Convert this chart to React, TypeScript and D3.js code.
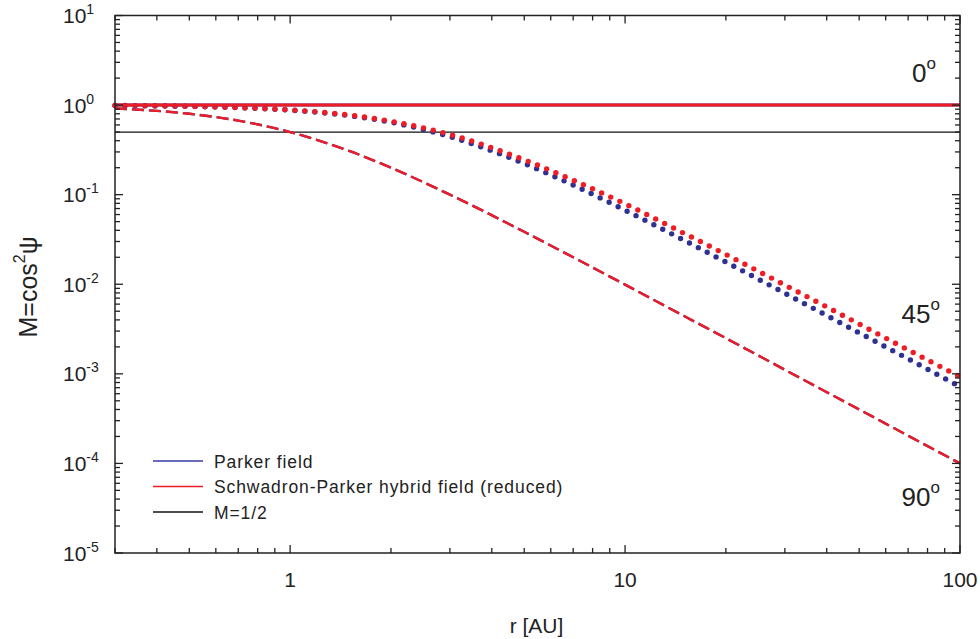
import React from "react";
import * as d3 from "d3";

// radial distance samples [AU]
const rValues = [0.3, 0.5, 0.7, 1, 1.5, 2, 3, 5, 7, 10, 15, 20, 30, 50, 70, 100];

// M = cos^2(psi)
const parker0 = [1, 1, 1, 1, 1, 1, 1, 1, 1, 1, 1, 1, 1, 1, 1, 1];
const hybrid0 = [1, 1, 1, 1, 1, 1, 1, 1, 1, 1, 1, 1, 1, 1, 1, 1];
const parker45 = [0.988, 0.966, 0.936, 0.878, 0.762, 0.643, 0.444, 0.223, 0.128, 0.0671, 0.031, 0.0177, 0.00794, 0.00287, 0.00147, 0.00072];
const hybrid45 = [0.99, 0.97, 0.94, 0.885, 0.775, 0.66, 0.47, 0.245, 0.145, 0.079, 0.037, 0.0215, 0.0098, 0.0036, 0.00185, 0.00093];
const parker90 = [0.917, 0.8, 0.671, 0.5, 0.308, 0.2, 0.1, 0.0385, 0.02, 0.0099, 0.00442, 0.0025, 0.00111, 0.0004, 0.000204, 0.0001];
const hybrid90 = [0.917, 0.8, 0.671, 0.5, 0.308, 0.2, 0.1, 0.0385, 0.02, 0.0099, 0.00442, 0.0025, 0.00111, 0.0004, 0.000204, 0.0001];
const halfLine = [0.5, 0.5];
const halfR = [0.3, 100];

const xTickLabels = [1, 10, 100];
const yTickExps = [-5, -4, -3, -2, -1, 0, 1];
const legendLabels = ["Parker field", "Schwadron-Parker hybrid field (reduced)", "M=1/2"];
const angleLabels = [
  { text: "0", m: 1.8 },
  { text: "45", m: 0.0037 },
  { text: "90", m: 0.0000335 },
];

const RED = "#ee1c25";
const BLUE = "#2e3192";
const FONT = "Arial, 'Liberation Sans', sans-serif";

export default function App() {
  const W = 980, H = 639;
  const left = 115, right = 960, top = 15.5, bottom = 553;

  const x = d3.scaleLog().domain([0.3, 100]).range([left, right]);
  const y = d3.scaleLog().domain([1e-5, 10]).range([bottom, top]);

  const line = d3
    .line<[number, number]>()
    .x((d) => x(d[0]))
    .y((d) => y(d[1]))
    .curve(d3.curveMonotoneX);

  const path = (vals: number[], rs = rValues) => line(rs.map((r, i) => [r, vals[i]]) as [number, number][]) || "";

  const xMajor = new Set(xTickLabels);
  const xTicks = x.ticks();
  const yTicks = y.ticks();
  const isMajorY = (v: number) => Math.abs(Math.log10(v) - Math.round(Math.log10(v))) < 1e-6;

  const tickStroke = { stroke: "#222", strokeWidth: 1.3 };

  return (
    <svg width={W} height={H} style={{ position: "absolute", left: 0, top: 0 }} fontFamily={FONT}>
      <rect width={W} height={H} fill="#fff" />

      {/* data */}
      <path d={path(halfLine, halfR)} fill="none" stroke="#111" strokeWidth={1.3} />
      <path d={path(parker90)} fill="none" stroke={BLUE} strokeWidth={2.4} strokeDasharray="12 5" />
      <path d={path(hybrid90)} fill="none" stroke={RED} strokeWidth={2.4} strokeDasharray="12 5" />
      <path d={path(parker45)} fill="none" stroke={BLUE} strokeWidth={5.4} strokeDasharray="0 10" strokeLinecap="round" />
      <path d={path(hybrid45)} fill="none" stroke={RED} strokeWidth={5.4} strokeDasharray="0 10" strokeLinecap="round" />
      <path d={path(parker0)} fill="none" stroke={BLUE} strokeWidth={3} />
      <path d={path(hybrid0)} fill="none" stroke={RED} strokeWidth={3} />

      {/* frame */}
      <rect x={left} y={top} width={right - left} height={bottom - top} fill="none" stroke="#222" strokeWidth={1.5} />

      {/* x ticks (bottom + top, inward) */}
      {xTicks.map((t, i) => {
        const len = xMajor.has(t) ? 8 : 5;
        const px = x(t);
        return (
          <g key={"xt" + i}>
            <line x1={px} x2={px} y1={bottom} y2={bottom - len} {...tickStroke} />
            <line x1={px} x2={px} y1={top} y2={top + len} {...tickStroke} />
          </g>
        );
      })}
      {xTickLabels.map((t) => (
        <text key={"xl" + t} x={x(t)} y={587} textAnchor="middle" fontSize={21} fill="#222">
          {t}
        </text>
      ))}

      {/* y ticks (left + right, inward) */}
      {yTicks.map((t, i) => {
        const len = isMajorY(t) ? 8 : 5;
        const py = y(t);
        return (
          <g key={"yt" + i}>
            <line x1={left} x2={left + len} y1={py} y2={py} {...tickStroke} />
            <line x1={right} x2={right - len} y1={py} y2={py} {...tickStroke} />
          </g>
        );
      })}
      {yTickExps.map((e) => (
        <text key={"yl" + e} x={63} y={y(Math.pow(10, e)) + 7.5} fontSize={21} fill="#222">
          10
          <tspan fontSize={14} dy={-9}>
            {e}
          </tspan>
        </text>
      ))}

      {/* axis titles */}
      <text x={(left + right) / 2 - 1} y={633} textAnchor="middle" fontSize={21} fill="#222">
        r [AU]
      </text>
      <text transform={`translate(37, 287) rotate(-90)`} textAnchor="middle" fontSize={25} fill="#222">
        M=cos
        <tspan fontSize={16} dy={-12}>2</tspan>
        <tspan dy={12}>ψ</tspan>
      </text>

      {/* angle annotations */}
      {angleLabels.map((a) => (
        <text key={a.text} x={a.text === "0" ? 936 : 940} y={y(a.m)} textAnchor="end" fontSize={26} fill="#222">
          {a.text}
          <tspan fontSize={17} dy={-13}>o</tspan>
        </text>
      ))}

      {/* legend */}
      {legendLabels.map((lab, i) => {
        const ly = 461 + i * 25.5;
        const col = i === 0 ? "#3a3aa6" : i === 1 ? RED : "#111";
        return (
          <g key={lab}>
            <line x1={153} x2={203} y1={ly} y2={ly} stroke={col} strokeWidth={1.4} />
            <text x={214} y={ly + 6.5} fontSize={17.5} letterSpacing={0.9} fill="#222">
              {lab}
            </text>
          </g>
        );
      })}
    </svg>
  );
}
